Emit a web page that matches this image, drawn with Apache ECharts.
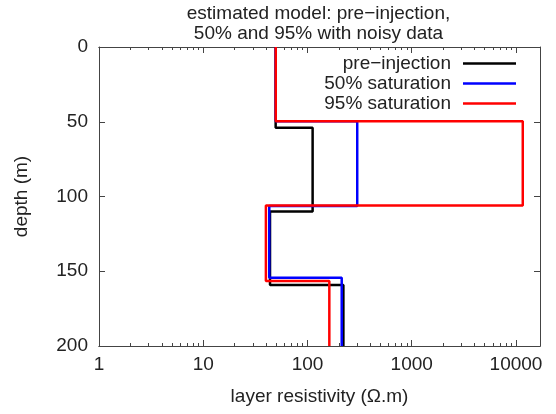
<!DOCTYPE html>
<html>
<head>
<meta charset="utf-8">
<script src="https://cdn.jsdelivr.net/npm/echarts@6/dist/echarts.min.js"></script>
<style>html,body{margin:0;padding:0;background:#fff}#c{width:556px;height:414px}</style>
</head>
<body>
<div id="c"></div>
<script>
// layer resistivities (Ohm.m), top to bottom
var preRho = [49.5, 112, 43.7, 221];
var preBounds = [54.0, 110.1, 159.2];
var halfRho = [49.6, 300, 43.0, 213];
var halfBounds = [49.7, 106.3, 154.3];
var fullRho = [49.6, 11620, 39.9, 162];
var fullBounds = [49.7, 106.1, 156.5];
var seriesNames = ['pre\u2212injection', '50% saturation', '95% saturation'];
var seriesColors = ['#000000', '#0000ff', '#ff0000'];
var majorTicks = [1, 10, 100, 1000, 10000];
var minorTicks = [2,3,4,5,6,7,8,9,20,30,40,50,60,70,80,90,200,300,400,500,600,700,800,900,2000,3000,4000,5000,6000,7000,8000,9000];
var depthTop = 0, depthBottom = 200;

function profile(rho, bounds) {
  var tops = [depthTop].concat(bounds);
  var bots = bounds.concat([depthBottom]);
  var pts = [];
  for (var i = 0; i < rho.length; i++) {
    pts.push([rho[i], tops[i]]);
    pts.push([rho[i], bots[i]]);
  }
  return pts;
}
var profiles = [profile(preRho, preBounds), profile(halfRho, halfBounds), profile(fullRho, fullBounds)];

var font = 'Liberation Sans, Arial, sans-serif';
var axisCol = '#444';
var xMin = 1, xMax = 17000;

function xAx(pos, customTicks, len, labels, extra) {
  var o = {
    type: 'log', logBase: 10, min: xMin, max: xMax, position: pos, gridIndex: 0,
    axisLine: {show: true, onZero: false, lineStyle: {color: axisCol, width: 1}},
    axisTick: {show: true, inside: true, length: len, customValues: customTicks, lineStyle: {color: axisCol, width: 1}},
    axisLabel: {show: labels, customValues: labels ? majorTicks : undefined, margin: 9, color: '#222', fontSize: 19, fontFamily: font,
      formatter: function (v) { return String(Math.round(v)); }},
    splitLine: {show: false}, minorTick: {show: false}
  };
  if (extra) for (var k in extra) o[k] = extra[k];
  return o;
}

var chart = echarts.init(document.getElementById('c'), null, {renderer: 'canvas'});
chart.setOption({
  animation: false,
  backgroundColor: '#fff',
  title: {
    text: 'estimated model: pre\u2212injection,\n50% and 95% with noisy data',
    left: 313.5, top: -1, textAlign: 'center',
    textStyle: {fontSize: 19, fontWeight: 'normal', color: '#222', fontFamily: font, lineHeight: 20}
  },
  grid: {left: 99, right: 16, top: 47, bottom: 68, containLabel: false},
  legend: {
    data: seriesNames.map(function (n) { return {name: n, icon: 'rect'}; }),
    orient: 'vertical', right: 40, top: 54, align: 'right', padding: 0,
    itemWidth: 53, itemHeight: 2.5, itemGap: 1,
    textStyle: {fontSize: 19, color: '#222', fontFamily: font, padding: [0, 7, 0, 0]}
  },
  xAxis: [
    xAx('bottom', majorTicks, 6, true, {name: 'layer resistivity (\u03a9.m)', nameLocation: 'middle', nameGap: 41,
      nameTextStyle: {fontSize: 19, color: '#222', fontFamily: font}}),
    xAx('bottom', minorTicks, 3, false),
    xAx('top', majorTicks, 6, false),
    xAx('top', minorTicks, 3, false)
  ],
  yAxis: [
    {type: 'value', min: 0, max: 200, interval: 50, inverse: true, position: 'left',
      name: 'depth (m)', nameLocation: 'middle', nameGap: 68, nameRotate: 90,
      nameTextStyle: {fontSize: 19, color: '#222', fontFamily: font},
      axisLine: {show: true, onZero: false, lineStyle: {color: axisCol, width: 1}},
      axisTick: {show: true, inside: true, length: 6, lineStyle: {color: axisCol}},
      axisLabel: {margin: 11, color: '#222', fontSize: 19, fontFamily: font},
      splitLine: {show: false}},
    {type: 'value', min: 0, max: 200, interval: 50, inverse: true, position: 'right',
      axisLine: {show: true, onZero: false, lineStyle: {color: axisCol, width: 1}},
      axisTick: {show: true, inside: true, length: 6, lineStyle: {color: axisCol}},
      axisLabel: {show: false}, splitLine: {show: false}}
  ],
  series: profiles.map(function (d, i) {
    return {
      name: seriesNames[i], type: 'line', xAxisIndex: 0, yAxisIndex: 0,
      data: d, symbol: 'none', showSymbol: false,
      lineStyle: {color: seriesColors[i], width: 2.5},
      itemStyle: {color: seriesColors[i]},
      z: 2 + i
    };
  })
});
</script>
</body>
</html>
